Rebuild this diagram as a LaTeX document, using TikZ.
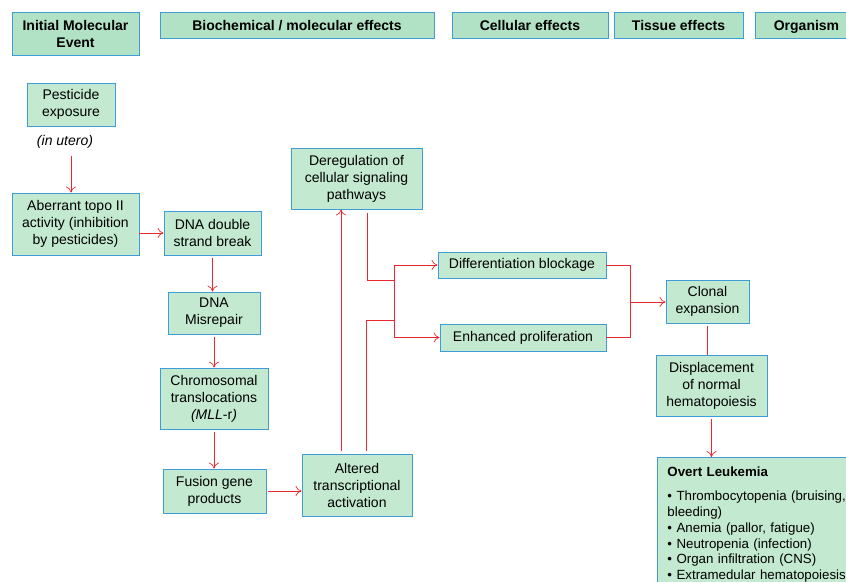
\documentclass[tikz,border=0pt]{standalone}
\usepackage{fontspec}
\setmainfont{Liberation Sans}
\usetikzlibrary{arrows.meta}

\definecolor{boxgreen}{RGB}{195,233,208}
\definecolor{headgreen}{RGB}{178,226,198}
\definecolor{boxblue}{RGB}{62,156,214}
\definecolor{linkred}{RGB}{232,40,45}

\tikzset{
  box/.style={draw=boxblue, fill=boxgreen, line width=0.9pt, align=center, inner sep=0pt, font=\fontsize{14}{17}\selectfont},
  headbox/.style={box, fill=headgreen, font=\fontsize{14}{17}\selectfont\bfseries},
  headline/.style={headbox, minimum height=26, text height=10pt, text depth=0pt},
  link/.style={draw=linkred, line width=0.7pt},
  arr/.style={link, -{To[length=6pt,width=10pt]}},
}

\begin{document}
\begin{tikzpicture}[x=1pt,y=-1pt]
  \useasboundingbox (0,0) rectangle (846,581);

  %header row
  \node[headbox, minimum width=127, minimum height=43] (hdinit) at (75.5,33.5) {Initial Molecular\\Event};
  \node[headline, minimum width=274] (hdbio) at (297,25) {Biochemical / molecular effects};
  \node[headline, minimum width=156] (hdcell) at (530,25) {Cellular effects};
  \node[headline, minimum width=129] (hdtissue) at (678.5,25) {Tissue effects};
  \node[headline, minimum width=103] (hdorg) at (806.5,25) {Organism};

  %exposure
  \node[box, minimum width=88, minimum height=43] (pest) at (71,104.5) {Pesticide\\exposure};
  \node[font=\fontsize{14}{17}\selectfont\itshape, inner sep=0pt] (utero) at (65,142) {(in utero)};

  %left column
  \node[box, minimum width=127, minimum height=62] (topo) at (75.5,224) {Aberrant topo II\\activity (inhibition\\by pesticides)};
  \node[box, minimum width=97, minimum height=44] (dsb) at (212.5,233) {DNA double\\strand break};
  \node[box, minimum width=92, minimum height=42] (misrep) at (214,313) {DNA\\Misrepair};
  \node[box, minimum width=108, minimum height=61] (transloc) at (214,398.5) {Chromosomal\\translocations\\\textit{(MLL}-r\textit{)}};
  \node[box, minimum width=103, minimum height=44] (fusion) at (214.5,491) {Fusion gene\\products};

  %middle
  \node[box, minimum width=110, minimum height=62] (altered) at (357,485) {Altered\\transcriptional\\activation};
  \node[box, minimum width=131, minimum height=61] (dereg) at (356.5,178.5) {Deregulation of\\cellular signaling\\pathways};
  \node[box, minimum width=168, minimum height=26] (diff) at (522,265) {Differentiation blockage};
  \node[box, minimum width=166, minimum height=27] (prolif) at (523,337.5) {Enhanced proliferation};

  %right
  \node[box, minimum width=83, minimum height=43] (clonal) at (707.5,301.5) {Clonal\\expansion};
  \node[box, minimum width=111, minimum height=61] (displ) at (711.5,385.5) {Displacement\\of normal\\hematopoiesis};
  \node[box, anchor=north west, align=left, minimum width=200, minimum height=135,
        inner xsep=10pt, inner ysep=3pt, text width=190, font=\fontsize{13.3}{15.8}\selectfont] (overt) at (657,457)
    {\textbf{Overt Leukemia}\\[8pt]
     • Thrombocytopenia (bruising,\\
     bleeding)\\
     • Anemia (pallor, fatigue)\\
     • Neutropenia (infection)\\
     • Organ infiltration (CNS)\\
     • Extramedular hematopoiesis};

  %junctions
  \coordinate (jtop) at (394,280);
  \coordinate (jbot) at (394,320);
  \coordinate (merge) at (630,302);

  %links
  \draw[arr] ([yshift=-7]utero.south -| pest) -- (topo.north -| pest);
  \draw[arr] (topo.east |- dsb) -- (dsb.west);
  \draw[arr, shorten <=3pt] (dsb.south) -- (dsb.south |- misrep.north);
  \draw[arr, shorten <=3pt] (misrep.south) -- (misrep.south |- transloc.north);
  \draw[arr, shorten <=3pt] (transloc.south) -- (transloc.south |- fusion.north);
  \draw[arr, shorten <=2pt] (fusion.east) -- (fusion.east -| altered.west);

  \draw[arr, shorten <=3pt] ([xshift=-16]altered.north) -- ([xshift=-16]altered.north |- dereg.south);
  \draw[link, shorten <=3pt] ([xshift=9]altered.north) |- (jbot);
  \draw[link, shorten <=4pt] ([xshift=11]dereg.south) |- (jtop);
  \draw[link] (jtop) -- (jbot);
  \draw[arr] (jtop) |- (diff.west);
  \draw[arr] (jbot) |- (prolif.west);

  \draw[link] (diff.east) -| (merge);
  \draw[link] (prolif.east) -| (merge);
  \draw[arr] (merge) -- (merge -| clonal.west);

  \draw[link, shorten <=3pt] (clonal.south) -- (clonal.south |- displ.north);
  \draw[arr, shorten <=3pt] (displ.south) -- (displ.south |- overt.north);

\end{tikzpicture}
\end{document}
